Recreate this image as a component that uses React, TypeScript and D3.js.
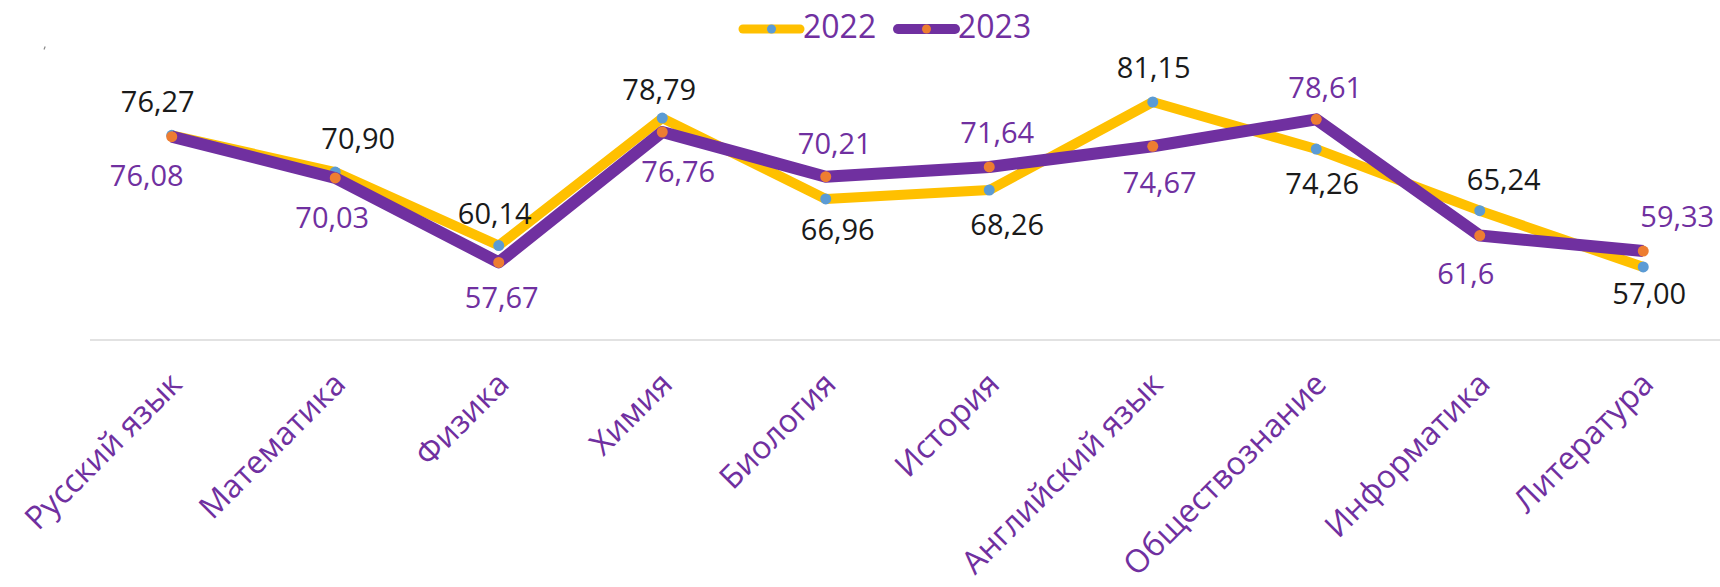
import React from "react";
import * as d3 from "d3";

const categories = [
  "Русский язык",
  "Математика",
  "Физика",
  "Химия",
  "Биология",
  "История",
  "Английский язык",
  "Обществознание",
  "Информатика",
  "Литература",
];
const values2022 = [76.27, 70.9, 60.14, 78.79, 66.96, 68.26, 81.15, 74.26, 65.24, 57.0];
const values2023 = [76.08, 70.03, 57.67, 76.76, 70.21, 71.64, 74.67, 78.61, 61.6, 59.33];
const labels2022 = ["76,27", "70,90", "60,14", "78,79", "66,96", "68,26", "81,15", "74,26", "65,24", "57,00"];
const labels2023 = ["76,08", "70,03", "57,67", "76,76", "70,21", "71,64", "74,67", "78,61", "61,6", "59,33"];
const seriesNames = ["2022", "2023"];

// layout: manual label offsets (px) relative to each point
const off2022: [number, number][] = [
  [-14, -33], [23, -33], [-4, -32], [-3, -28], [12, 31],
  [18, 35], [1, -34], [6, 35], [24, -31], [6, 27],
];
const off2023: [number, number][] = [
  [-25, 39], [-3, 40], [3, 35], [16, 40], [9, -33],
  [8, -34], [7, 37], [9, -32], [-14, 38], [34, -34],
];

const W = 1720;
const H = 587;
const PURPLE = "#7030A0";
const YELLOW = "#FFC000";
const BLUE = "#5B9BD5";
const ORANGE = "#ED7D31";
const FONT = "'Open Sans', 'Noto Sans', sans-serif";

export default function App() {
  const x = d3.scaleBand<string>().domain(categories).range([90, 1725]).padding(0);
  const cx = (c: string) => (x(c) as number) + x.bandwidth() / 2;
  const y = d3.scaleLinear().domain([46.31, 81.15]).range([340, 102]);

  const line = d3
    .line<number>()
    .x((_, i) => cx(categories[i]))
    .y((v) => y(v));

  const series = [
    { vals: values2022, labels: labels2022, offs: off2022, color: YELLOW, marker: BLUE, width: 10, text: "#1a1a1a" },
    { vals: values2023, labels: labels2023, offs: off2023, color: PURPLE, marker: ORANGE, width: 12, text: PURPLE },
  ];

  const legend = [
    { name: seriesNames[0], color: YELLOW, marker: BLUE, x0: 743, x1: 800, tx: 803, w: 9 },
    { name: seriesNames[1], color: PURPLE, marker: ORANGE, x0: 898, x1: 955, tx: 958, w: 10 },
  ];

  return (
    <svg
      width={W}
      height={H}
      style={{ position: "absolute", left: 0, top: 0, background: "#fff" }}
      fontFamily={FONT}
    >
      <rect x={0} y={0} width={W} height={H} fill="#fff" />
      {/* stray mark */}
      <line x1={44} y1={49.5} x2={45.2} y2={46.5} stroke="#888" strokeWidth={1.2} />

      {/* legend */}
      {legend.map((l) => (
        <g key={l.name}>
          <line x1={l.x0} x2={l.x1} y1={29} y2={29} stroke={l.color} strokeWidth={l.w} strokeLinecap="round" />
          <circle cx={(l.x0 + l.x1) / 2} cy={29} r={4.5} fill={l.marker} />
          <text x={l.tx} y={27} dy="0.35em" fontSize={32} fill={PURPLE}>
            {l.name}
          </text>
        </g>
      ))}

      {/* category axis line */}
      <line x1={90} x2={W} y1={340} y2={340} stroke="#d9d9d9" strokeWidth={1.5} />

      {/* series */}
      {series.map((s, si) => (
        <g key={si}>
          <path
            d={line(s.vals) || ""}
            fill="none"
            stroke={s.color}
            strokeWidth={s.width}
            strokeLinejoin="round"
            strokeLinecap="butt"
          />
          {s.vals.map((v, i) => (
            <circle key={i} cx={cx(categories[i])} cy={y(v)} r={5.5} fill={s.marker} />
          ))}
        </g>
      ))}

      {/* data labels */}
      {series.map((s, si) => (
        <g key={"l" + si}>
          {s.vals.map((v, i) => (
            <text
              key={i}
              x={cx(categories[i]) + s.offs[i][0]}
              y={y(v) + s.offs[i][1]}
              dy="0.35em"
              textAnchor="middle"
              fontSize={29}
              fill={s.text}
            >
              {s.labels[i]}
            </text>
          ))}
        </g>
      ))}

      {/* category labels */}
      {categories.map((c) => {
        const ax = cx(c) + 12;
        const ay = 386;
        return (
          <text
            key={c}
            x={ax}
            y={ay}
            textAnchor="end"
            fontSize={32}
            fill={PURPLE}
            transform={`rotate(-45 ${ax} ${ay})`}
          >
            {c}
          </text>
        );
      })}
    </svg>
  );
}
